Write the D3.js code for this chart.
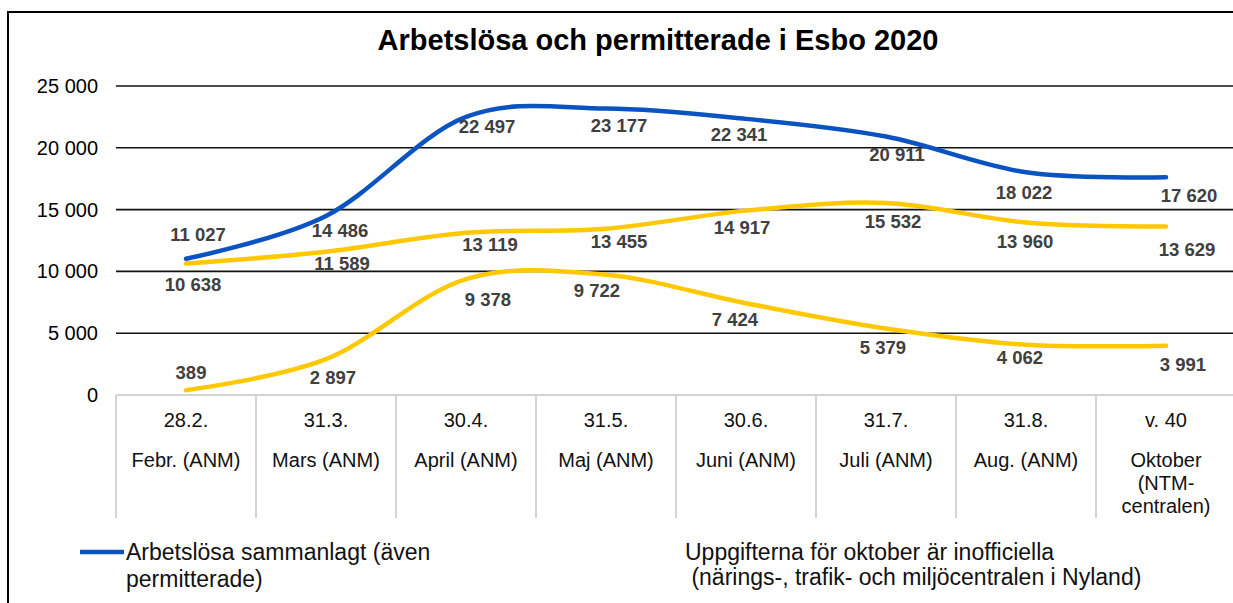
<!DOCTYPE html>
<html>
<head>
<meta charset="utf-8">
<script src="https://cdn.jsdelivr.net/npm/d3@7"></script>
<style>
  body { margin: 0; background: #fff; }
  svg { display: block; font-family: "Liberation Sans", Arial, sans-serif; }
</style>
</head>
<body>
<svg id="chart" width="1233" height="603"></svg>
<script>
// data
var dates = ["28.2.", "31.3.", "30.4.", "31.5.", "30.6.", "31.7.", "31.8.", "v. 40"];
var months = ["Febr. (ANM)", "Mars (ANM)", "April (ANM)", "Maj (ANM)", "Juni (ANM)",
              "Juli (ANM)", "Aug. (ANM)", "Oktober\n(NTM-\ncentralen)"];
var totalUnemployed = [11027, 14486, 22497, 23177, 22341, 20911, 18022, 17620];
var unemployed = [10638, 11589, 13119, 13455, 14917, 15532, 13960, 13629];
var laidOff = [389, 2897, 9378, 9722, 7424, 5379, 4062, 3991];
var yTicks = [0, 5000, 10000, 15000, 20000, 25000];

var title = "Arbetslösa och permitterade i Esbo 2020";
var legendText = ["Arbetslösa sammanlagt (även", "permitterade)"];
var noteText = ["Uppgifterna för oktober är inofficiella", " (närings-, trafik- och miljöcentralen i Nyland)"];

// label nudges (px, relative to the point) as placed in the original
var nudges = {
    total:   [[12, -24], [14, 15], [21, 10], [13, 17], [-7, 16], [11, 18], [-2, 20], [23, 18]],
    unemp:   [[7, 21], [16, 12], [24, 12], [13, 13], [-4, 17], [7, 19], [-1, 19], [21, 23]],
    laidoff: [[5, -18], [7, 18], [22, 20], [-9, 16], [-11, 16], [-3, 19], [-6, 13], [17, 19]]
};

var series = [
    {key: "unemp", values: unemployed, color: "#FFC800"},
    {key: "laidoff", values: laidOff, color: "#FFC800"},
    {key: "total", values: totalUnemployed, color: "#0B53C1"}
];

var svg = d3.select("#chart");
var plot = {left: 116, right: 1236, top: 86, bottom: 395};

var fi = d3.formatLocale({decimal: ",", thousands: "\u00a0", grouping: [3], currency: ["", ""]});
var fmt = fi.format(",d");

var x = d3.scaleBand().domain(dates).range([plot.left, plot.right]);
var y = d3.scaleLinear().domain([0, 25000]).range([plot.bottom, plot.top]);

// frame
svg.append("rect")
    .attr("x", 8).attr("y", 12)
    .attr("width", 1300).attr("height", 700)
    .attr("fill", "none").attr("stroke", "#000").attr("stroke-width", 2);

// title
svg.append("text")
    .attr("x", 658).attr("y", 50)
    .attr("text-anchor", "middle")
    .style("font-size", "29px").style("font-weight", "bold")
    .attr("fill", "#000")
    .text(title);

// gridlines
svg.append("g").selectAll("line")
    .data(yTicks.filter(function(d) { return d > 0; }))
    .enter().append("line")
    .attr("x1", plot.left).attr("x2", 1240)
    .attr("y1", function(d) { return y(d); })
    .attr("y2", function(d) { return y(d); })
    .attr("stroke", "#111").attr("stroke-width", 1.6);

// y axis labels
var yAxis = d3.axisLeft(y).tickValues(yTicks).tickSize(0).tickPadding(0).tickFormat(fmt);
var ya = svg.append("g").attr("transform", "translate(98,0)").call(yAxis);
ya.select(".domain").remove();
ya.selectAll("text")
    .style("font-size", "20px")
    .style("font-family", "'Liberation Sans', Arial, sans-serif")
    .attr("fill", "#000");

// x axis box
var xg = svg.append("g");
xg.append("line")
    .attr("x1", plot.left).attr("x2", 1240)
    .attr("y1", plot.bottom).attr("y2", plot.bottom)
    .attr("stroke", "#d4d4d4").attr("stroke-width", 2);
xg.selectAll(".sep")
    .data(dates)
    .enter().append("line")
    .attr("class", "sep")
    .attr("x1", function(d) { return x(d); })
    .attr("x2", function(d) { return x(d); })
    .attr("y1", plot.bottom).attr("y2", 518)
    .attr("stroke", "#d4d4d4").attr("stroke-width", 2);

var cat = xg.selectAll(".cat")
    .data(dates)
    .enter().append("text")
    .attr("class", "cat")
    .attr("text-anchor", "middle")
    .style("font-size", "20px")
    .attr("fill", "#111");

cat.append("tspan")
    .attr("x", function(d) { return x(d) + x.bandwidth() / 2; })
    .attr("y", 427)
    .text(function(d) { return d; });

cat.each(function(d, i) {
    var lines = months[i].split("\n");
    var t = d3.select(this);
    lines.forEach(function(line, j) {
        t.append("tspan")
            .attr("x", x(d) + x.bandwidth() / 2)
            .attr("y", 467 + j * 23)
            .text(line);
    });
});

// lines
var line = d3.line()
    .x(function(d, i) { return x(dates[i]) + x.bandwidth() / 2; })
    .y(function(d) { return y(d); })
    .curve(d3.curveCatmullRom.alpha(0));

svg.append("g").selectAll("path")
    .data(series)
    .enter().append("path")
    .attr("d", function(s) { return line(s.values); })
    .attr("fill", "none")
    .attr("stroke", function(s) { return s.color; })
    .attr("stroke-width", 4.5)
    .attr("stroke-linecap", "round");

// data labels
series.forEach(function(s) {
    svg.append("g").selectAll("text")
        .data(s.values)
        .enter().append("text")
        .attr("x", function(d, i) { return x(dates[i]) + x.bandwidth() / 2 + nudges[s.key][i][0]; })
        .attr("y", function(d, i) { return y(d) + nudges[s.key][i][1]; })
        .attr("dy", "0.35em")
        .attr("text-anchor", "middle")
        .style("font-size", "18.5px").style("font-weight", "bold")
        .attr("fill", "#404040")
        .text(function(d) { return fmt(d); });
});

// legend
svg.append("line")
    .attr("x1", 80).attr("x2", 124)
    .attr("y1", 552).attr("y2", 552)
    .attr("stroke", "#0B53C1").attr("stroke-width", 4.5);
svg.append("text")
    .style("font-size", "23px").attr("fill", "#111")
    .selectAll("tspan")
    .data(legendText)
    .enter().append("tspan")
    .attr("x", 126)
    .attr("y", function(d, i) { return 560 + i * 27; })
    .text(function(d) { return d; });

// note
svg.append("text")
    .style("font-size", "23px").attr("fill", "#111")
    .attr("xml:space", "preserve")
    .selectAll("tspan")
    .data(noteText)
    .enter().append("tspan")
    .attr("x", 685)
    .attr("y", function(d, i) { return 560 + i * 25; })
    .style("white-space", "pre")
    .text(function(d) { return d; });
</script>
</body>
</html>
